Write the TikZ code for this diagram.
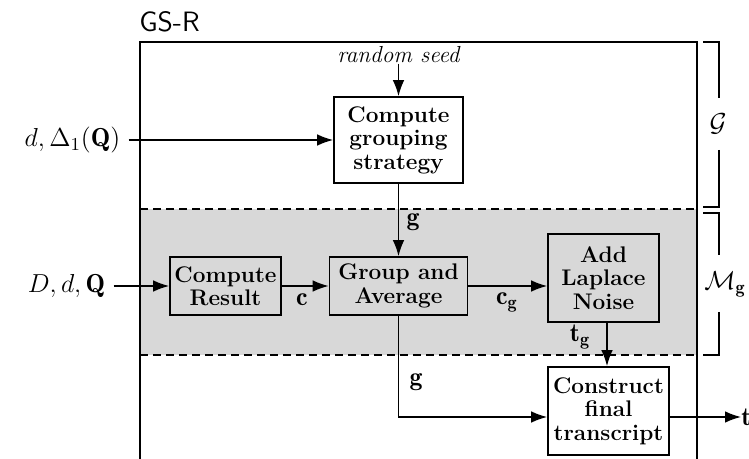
\RequirePackage{fix-cm}
\documentclass[tikz,border=0pt]{standalone}
\usepackage{fontspec}
\usetikzlibrary{arrows.meta}
\definecolor{bandgray}{RGB}{216,216,216}
\tikzset{
  box/.style={draw, line width=0.85pt, align=center, inner sep=0pt,
    font=\fontsize{11.3}{11.7}\selectfont\bfseries},
  arr/.style={-{Latex[length=8pt,width=5.8pt]}, line width=0.75pt},
  lbl/.style={inner sep=0pt, font=\fontsize{13}{14}\selectfont},
  inlbl/.style={inner sep=4pt, font=\fontsize{13}{14}\selectfont},
  frame/.style={line width=0.9pt},
  sep/.style={dashed, dash pattern=on 4pt off 2.5pt, line width=0.75pt},
  brk/.style={line width=0.75pt}
}
\begin{document}
\begin{tikzpicture}[x=0.5pt,y=-0.5pt]
\useasboundingbox (0,0) rectangle (749,459);
\clip (0,0) rectangle (749,459);

% shaded band
\fill[bandgray] (140,209) rectangle (697,355);
\draw[sep] (140,209) -- (697,209);
\draw[sep] (140,355) -- (697,355);
% outer frame
\draw[frame] (140,42) rectangle (697,480);
\node[anchor=south west, inner sep=0pt, font=\fontsize{14}{15}\selectfont\sffamily] (title) at (139,32) {GS-R};

% brackets
\node[lbl] (Gl) at (718,124) {$\mathcal{G}$};
\coordinate (g1) at (703,42);
\coordinate (g2) at (703,207);
\coordinate (g3) at (719,98);
\coordinate (g4) at (719,150);
\draw[brk] (g1) -| (g3);
\draw[brk] (g4) |- (g2);
\node[lbl, anchor=west] (Ml) at (704,284) {$\mathcal{M}_{\mathbf{g}}$};
\coordinate (m1) at (703,213);
\coordinate (m2) at (703,355);
\coordinate (m3) at (719,255);
\coordinate (m4) at (719,312);
\draw[brk] (m1) -| (m3);
\draw[brk] (m4) |- (m2);

% boxes
\node[box, fill=white, minimum width=64.5pt, minimum height=43pt] (grp) at (398.5,140) {Compute\\grouping\\strategy};
\node[box, minimum width=55.5pt, minimum height=29pt] (cr) at (225.5,286) {Compute\\Result};
\node[box, minimum width=69pt, minimum height=29pt] (ga) at (398.5,286) {Group and\\Average};
\node[box, minimum width=55.5pt, minimum height=44pt] (lap) at (603.5,278) {Add\\Laplace\\Noise};
\node[box, fill=white, minimum width=60.5pt, minimum height=44pt] (con) at (608.5,411) {Construct\\final\\transcript};

% inputs / outputs
\node[inlbl] (in1) at (72.5,140) {$d,\Delta_1(\mathbf{Q})$};
\node[inlbl] (in2) at (66.5,286) {$D,d,\mathbf{Q}$};
\node[inner sep=0pt, font=\fontsize{11.6}{12}\selectfont\itshape] (seed) at (398.5,55) {random seed};
\node[lbl, anchor=west] (out) at (741,417) {$\mathbf{t}$};

% connectors
\draw[arr] (seed.south) -- (grp.north);
\draw[arr] (in1.east) -- (in1.east -| grp.west);
\draw[arr] (in2.east) -- (in2.east -| cr.west);
\draw[arr] (cr.east) -- (cr.east -| ga.west);
\draw[arr] (grp.south) -- (ga.north);
\draw[arr] (ga.east) -- (ga.east -| lap.west);
\coordinate (tgtop) at ([xshift=1.75pt]lap.south);
\draw[arr] (tgtop) -- (tgtop |- con.north);
\coordinate (turn) at (398.5,417);
\draw[arr] (ga.south) -- (turn) -- (turn -| con.west);
\draw[arr] (con.east |- turn) -- (out.west);

% edge labels
\node[lbl] (lg1) at (413,222) {$\mathbf{g}$};
\node[lbl] (lc) at (302,300) {$\mathbf{c}$};
\node[lbl] (lcg) at (507,302) {$\mathbf{c}_{\mathbf{g}}$};
\node[lbl] (ltg) at (580,337) {$\mathbf{t}_{\mathbf{g}}$};
\node[lbl] (lg2) at (416,382) {$\mathbf{g}$};
\end{tikzpicture}
\end{document}
